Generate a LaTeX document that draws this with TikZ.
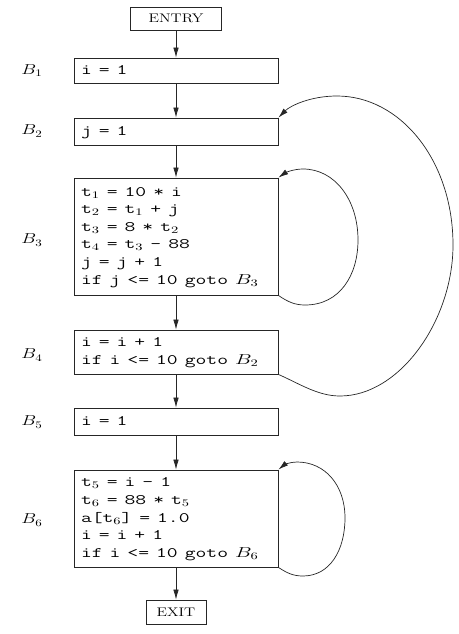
\documentclass[tikz,border=0pt]{standalone}
\usepackage{fontspec}
\usepackage{graphicx}
\usetikzlibrary{arrows.meta}
\newcommand\codebox[1]{\scalebox{1.45}[1]{\begin{tabular}{@{}l@{}}#1\end{tabular}}}
\newcommand\wideroman[1]{\scalebox{1.26}[1]{#1}}
\newcommand\widelabel[1]{\scalebox{1.3}[1]{#1}}
\tikzset{
  blk/.style={draw=black!85, line width=0.8pt, minimum width=204pt, text width=190pt,
    inner xsep=7pt, inner ysep=0pt, align=left,
    font=\fontsize{14.5}{17.6}\selectfont\ttfamily},
  term/.style={draw=black!85, line width=0.8pt, inner sep=0pt, font=\fontsize{12.5}{14}\selectfont},
  lbl/.style={inner sep=0pt, font=\fontsize{14}{16}\selectfont},
  flow/.style={-{Latex[length=10pt,width=5.5pt]}, line width=0.7pt, draw=black!85},
}
\begin{document}
\begin{tikzpicture}[x=1pt,y=-1pt]
\useasboundingbox (0,0) rectangle (458,634);
% boxes
\node[term, minimum width=91pt, minimum height=23pt] (entry) at (176,18.5) {\wideroman{ENTRY}};
\node[blk, minimum height=25pt] (b1) at (176,70.5) {\codebox{i = 1}};
\node[blk, minimum height=27pt] (b2) at (176,131.5) {\codebox{j = 1}};
\node[blk, minimum height=117pt] (b3) at (176,236.5) {\codebox{t$_1$ = 10 * i\\t$_2$ = t$_1$ + j\\t$_3$ = 8 * t$_2$\\t$_4$ = t$_3$ - 88\\j = j + 1\\if j <= 10 goto $B_3$}};
\node[blk, minimum height=44pt] (b4) at (176,352) {\codebox{i = i + 1\\if i <= 10 goto $B_2$}};
\node[blk, minimum height=27pt] (b5) at (176,421.5) {\codebox{i = 1}};
\node[blk, minimum height=97pt] (b6) at (176,518.5) {\codebox{t$_5$ = i - 1\\t$_6$ = 88 * t$_5$\\a[t$_6$] = 1.0\\i = i + 1\\if i <= 10 goto $B_6$}};
\node[term, minimum width=60pt, minimum height=24pt] (exit) at (176,612) {\wideroman{EXIT}};
% labels
\node[lbl] (l1) at (32,71) {\widelabel{$B_1$}};
\node[lbl] (l2) at (32,131) {\widelabel{$B_2$}};
\node[lbl] (l3) at (32,240) {\widelabel{$B_3$}};
\node[lbl] (l4) at (32,355) {\widelabel{$B_4$}};
\node[lbl] (l5) at (32,422) {\widelabel{$B_5$}};
\node[lbl] (l6) at (32,520) {\widelabel{$B_6$}};
% straight flow
\draw[flow] (entry) -- (b1);
\draw[flow] (b1) -- (b2);
\draw[flow] (b2) -- (b3);
\draw[flow] (b3) -- (b4);
\draw[flow] (b4) -- (b5);
\draw[flow] (b5) -- (b6);
\draw[flow] (b6) -- (exit);
% back edges
\draw[flow] (b4.south east) .. controls (300,384) and (318,396) .. (340,396)
  .. controls (400,396) and (453,320) .. (453,245)
  .. controls (453,160) and (400,96) .. (337,96)
  .. controls (310,96) and (290,106) .. (b2.north east);
\draw[flow] (b3.south east) .. controls (288,302) and (295,305) .. (305,305)
  .. controls (340,305) and (358,275) .. (358,240)
  .. controls (358,200) and (335,169) .. (303,169)
  .. controls (293,169) and (285,173) .. (b3.north east);
\draw[flow] (b6.south east) .. controls (287,573) and (293,576) .. (303,576)
  .. controls (330,576) and (345,550) .. (345,518)
  .. controls (345,485) and (325,462) .. (297,462)
  .. controls (290,462) and (284,465) .. (b6.north east);
\end{tikzpicture}
\end{document}
